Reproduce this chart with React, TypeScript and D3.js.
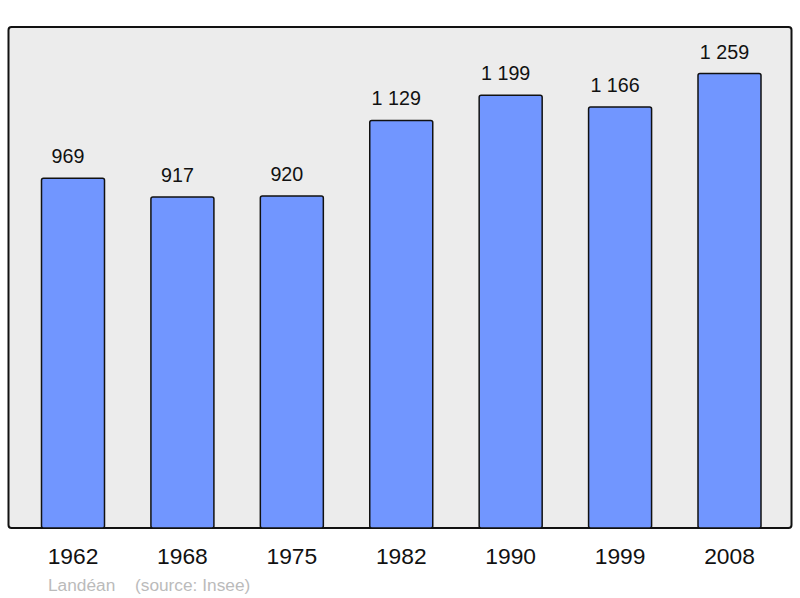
import React from "react";
import * as d3 from "d3";

const years = ["1962", "1968", "1975", "1982", "1990", "1999", "2008"];
const population = [969, 917, 920, 1129, 1199, 1166, 1259];
const valueLabels = ["969", "917", "920", "1 129", "1 199", "1 166", "1 259"];
const commune = "Landéan";
const source = "(source: Insee)";

export default function App() {
  const W = 800, H = 598;
  const frame = { x: 8.5, y: 27, w: 783, h: 501 };
  const x = d3.scaleLinear().domain([0, years.length - 1]).range([73, 729.5]);
  const y = d3.scaleLinear().domain([0, 1259]).range([528, 73.5]);
  const bw = 63;
  const font = "Liberation Sans, Arial, sans-serif";
  return (
    <svg width={W} height={H} style={{ position: "absolute", left: 0, top: 0 }}>
      <rect x={frame.x} y={frame.y} width={frame.w} height={frame.h} rx={3} fill="#ececec" stroke="#111" strokeWidth={2} />
      {population.map((v, i) => (
        <g key={years[i]}>
          <rect x={x(i) - bw / 2} y={y(v)} width={bw} height={y(0) - y(v)} rx={2} fill="#7196ff" stroke="#111" strokeWidth={1.5} />
          <text x={x(i) - 5} y={y(v) - 15} textAnchor="middle" fontFamily={font} fontSize={19.7} fill="#111">{valueLabels[i]}</text>
          <text x={x(i)} y={564} textAnchor="middle" fontFamily={font} fontSize={22.8} fill="#111">{years[i]}</text>
        </g>
      ))}
      <text x={48} y={591} fontFamily={font} fontSize={17.3} fill="#bbb">{commune}</text>
      <text x={135} y={591} fontFamily={font} fontSize={17.3} fill="#bbb">{source}</text>
    </svg>
  );
}
